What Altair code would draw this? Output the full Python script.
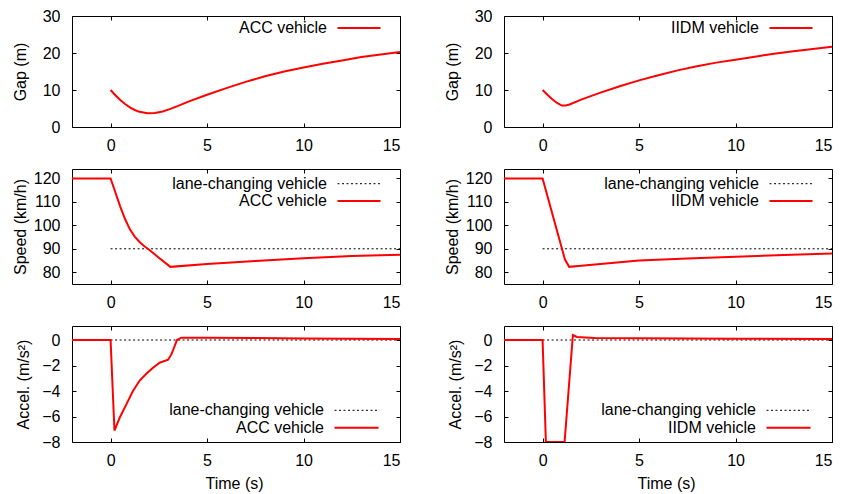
import altair as alt
import pandas as pd

FONT = "Liberation Sans"
FS = 16
X_DOMAIN = [-2, 15]
X_TICKS = [0, 5, 10, 15]
PLOT_W = 328

# ---------------- data ----------------
# Gap (m)
acc_gap_t = [0, 0.25, 0.5, 0.75, 1.0, 1.25, 1.5, 1.9, 2.3, 2.7, 3.1, 3.5, 4.0,
             5, 6, 7, 8, 9, 10, 11, 12, 13, 14, 15]
acc_gap = [10, 8.6, 7.3, 6.2, 5.3, 4.6, 4.1, 3.7, 3.8, 4.2, 4.9, 5.7, 6.8,
           8.7, 10.5, 12.2, 13.7, 15.0, 16.1, 17.1, 18.0, 18.9, 19.6, 20.3]
iidm_gap_t = [0, 0.25, 0.5, 0.75, 1.0, 1.2, 1.4, 2, 3, 4, 5, 6, 7, 8, 9, 10,
              11, 12, 13, 14, 15]
iidm_gap = [10, 8.7, 7.5, 6.5, 5.8, 5.8, 6.1, 7.4, 9.3, 11.0, 12.6, 14.0, 15.3,
            16.4, 17.4, 18.2, 19.0, 19.8, 20.5, 21.1, 21.7]

# Speed (km/h)
acc_speed_t = [-2, 0, 0.25, 0.5, 0.75, 1.0, 1.25, 1.5, 1.75, 2.0, 2.5, 3.1,
               5, 7.5, 10, 12.5, 15]
acc_speed = [120, 120, 114, 108, 102.7, 98.3, 95.2, 92.9, 91.1, 89.6, 86.2, 82.3,
             83.5, 84.8, 86.0, 86.9, 87.5]
iidm_speed_t = [-2, 0, 1.16, 1.38, 2, 5, 7.5, 10, 12.5, 15]
iidm_speed = [120, 120, 85.4, 82.3, 82.8, 85.0, 85.9, 86.6, 87.4, 88.0]
lc_speed_t = [0, 15]
lc_speed = [90, 90]

# Acceleration (m/s^2)
acc_accel_t = [-2, 0, 0.2, 0.47, 0.81, 1.16, 1.5, 1.85, 2.2, 2.54, 2.98, 3.15,
               3.32, 3.44, 3.67, 5, 10, 15]
acc_accel = [0, 0, -7.1, -6.1, -5.07, -4.0, -3.2, -2.65, -2.18, -1.78, -1.55, -1.13,
             -0.47, 0.0, 0.18, 0.18, 0.12, 0.08]
iidm_accel_t = [-2, 0, 0.17, 1.14, 1.57, 1.78, 2.7, 5, 10, 15]
iidm_accel = [0, 0, -8, -8, 0.39, 0.24, 0.15, 0.13, 0.10, 0.08]
lc_accel_t = [0, 15]
lc_accel = [0, 0]

# axis settings
gap_domain, gap_ticks = [0, 30], [0, 10, 20, 30]
speed_domain, speed_ticks = [75, 124], [80, 90, 100, 110, 120]
accel_domain, accel_ticks = [-8, 1.1], [-8, -6, -4, -2, 0]

LC_LABEL = "lane-changing vehicle"


def frame(t, v):
    return pd.DataFrame({"t": t, "v": v})


def panel(red_t, red_v, red_label, dom, ticks, ytitle, h, title_x,
          lc=None, legend_ys=(12,), text_right=255, line_x=(265.5, 308.5),
          xtitle=None):
    x_enc = alt.X("t:Q", scale=alt.Scale(domain=X_DOMAIN, nice=False, zero=False),
                  axis=alt.Axis(values=X_TICKS, title=xtitle, grid=True,
                                gridDash=[4, h - 8], labelPadding=10,
                                titleX=162, titleY=46, titleBaseline="alphabetic"))
    y_enc = alt.Y("v:Q", scale=alt.Scale(domain=dom, nice=False, zero=False),
                  axis=alt.Axis(values=ticks, title=ytitle, grid=True,
                                gridDash=[4, PLOT_W - 8], labelPadding=12,
                                titleX=title_x, titleY=h / 2, titleAngle=270,
                                titleAlign="center", titleBaseline="alphabetic"))
    layers = []
    if lc is not None:
        layers.append(alt.Chart(frame(*lc)).mark_line(
            color="black", strokeWidth=1, strokeDash=[2, 2.5], clip=True
        ).encode(x=x_enc, y=y_enc))
    layers.append(alt.Chart(frame(red_t, red_v)).mark_line(
        color="#ff0000", strokeWidth=2, clip=True).encode(x=x_enc, y=y_enc))

    entries = []
    if lc is not None:
        entries.append((LC_LABEL, "black", 1, [2, 2.5]))
    entries.append((red_label, "#ff0000", 2, None))
    for (label, col, sw, dash), ly in zip(entries, legend_ys):
        layers.append(alt.Chart(pd.DataFrame({"label": [label]})).mark_text(
            align="right", baseline="middle", font=FONT, fontSize=FS, color="black"
        ).encode(text="label:N", x=alt.value(text_right), y=alt.value(ly)))
        kw = dict(color=col, strokeWidth=sw)
        if dash is not None:
            kw["strokeDash"] = dash
        layers.append(alt.Chart(pd.DataFrame({"label": [label]})).mark_rule(**kw).encode(
            x=alt.value(line_x[0]), x2=alt.value(line_x[1]), y=alt.value(ly)))
    return alt.layer(*layers).properties(width=PLOT_W, height=h)


H_GAP, H_SPEED, H_ACC = 111, 115, 116
T_SPEED, T_ACC = 168, 325

charts = []
for lab, g in (("ACC vehicle", (acc_gap_t, acc_gap)), ("IIDM vehicle", (iidm_gap_t, iidm_gap))):
    charts.append(panel(g[0], g[1], lab, gap_domain, gap_ticks, "Gap (m)", H_GAP, -47,
                        legend_ys=(12,)))
for lab, s in (("ACC vehicle", (acc_speed_t, acc_speed)), ("IIDM vehicle", (iidm_speed_t, iidm_speed))):
    charts.append(panel(s[0], s[1], lab, speed_domain, speed_ticks, "Speed (km/h)", H_SPEED, -47,
                        lc=(lc_speed_t, lc_speed),
                        legend_ys=(182.7 - T_SPEED, 200 - T_SPEED)))
for lab, a in (("ACC vehicle", (acc_accel_t, acc_accel)), ("IIDM vehicle", (iidm_accel_t, iidm_accel))):
    charts.append(panel(a[0], a[1], lab, accel_domain, accel_ticks, "Accel. (m/s²)", H_ACC, -43.5,
                        lc=(lc_accel_t, lc_accel),
                        legend_ys=(409.3 - T_ACC, 426.7 - T_ACC),
                        text_right=252, line_x=(262.5, 306.5), xtitle="Time (s)"))

chart = alt.concat(*charts, columns=2, spacing={"row": 42, "column": 104},
                   bounds="flush").properties(
    padding={"left": 11, "top": 7, "right": 5, "bottom": 5},
    background="white",
).configure_view(
    stroke="black", strokeWidth=1
).configure_axis(
    labelFont=FONT, labelFontSize=FS, labelColor="black",
    titleFont=FONT, titleFontSize=FS, titleFontWeight="normal", titleColor="black",
    domain=False, ticks=False, gridColor="black", gridOpacity=1, gridWidth=1,
)

chart.save("out.html", embed_options={"renderer": "svg", "actions": False})
